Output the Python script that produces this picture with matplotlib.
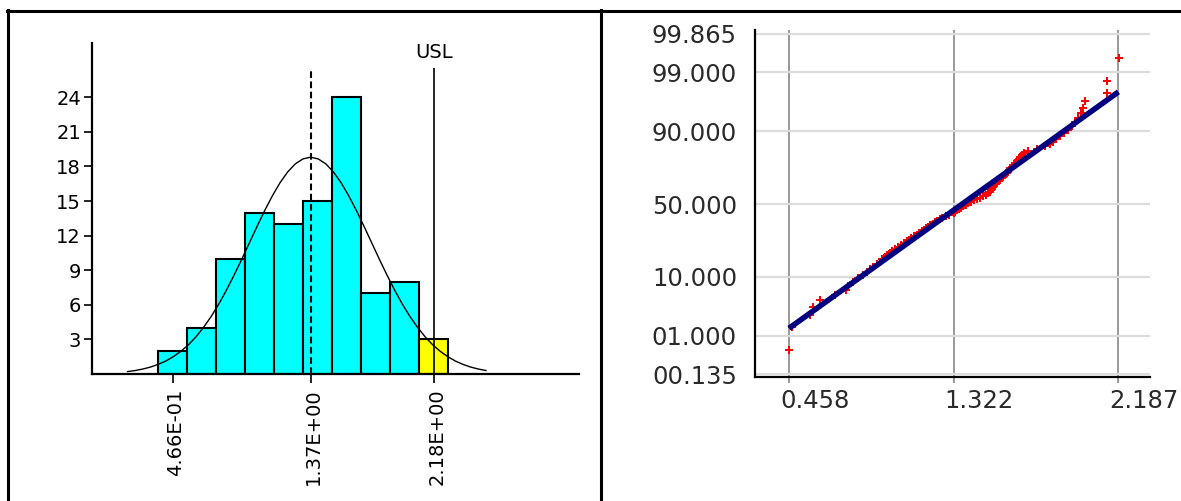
#%% Libraries
import math
import numpy as np
import matplotlib
matplotlib.use("Agg")
import matplotlib.pyplot as plt
import matplotlib.transforms as mtransforms
from matplotlib.lines import Line2D


#%% data - histogram (left)
bin_edges = [0.372, 0.562, 0.752, 0.942, 1.132, 1.322, 1.512, 1.702, 1.892, 2.082, 2.272]
counts = [2, 4, 10, 14, 13, 15, 24, 7, 8, 3]
bar_colors = ['#00ffff'] * 9 + ['#ffff00']

# normal curve
curve_x = [0.17, 0.22, 0.27, 0.32, 0.37, 0.42, 0.47, 0.52, 0.57, 0.62, 0.67, 0.72,
           0.77, 0.82, 0.87, 0.92, 0.97, 1.02, 1.07, 1.12, 1.17, 1.22, 1.27, 1.32,
           1.37, 1.42, 1.47, 1.52, 1.57, 1.62, 1.67, 1.72, 1.77, 1.82, 1.87, 1.92,
           1.97, 2.02, 2.07, 2.12, 2.17, 2.22, 2.27, 2.32, 2.37, 2.42, 2.47, 2.52]
curve_y = [0.21, 0.30, 0.43, 0.60, 0.83, 1.12, 1.50, 1.97, 2.54, 3.24, 4.07, 5.02,
           6.10, 7.31, 8.61, 9.98, 11.40, 12.82, 14.19, 15.46, 16.59, 17.52, 18.22, 18.65,
           18.80, 18.65, 18.22, 17.52, 16.59, 15.46, 14.19, 12.82, 11.40, 9.98, 8.61, 7.31,
           6.10, 5.02, 4.07, 3.24, 2.54, 1.97, 1.50, 1.12, 0.83, 0.60, 0.43, 0.30]

mean_value = 1.37
usl_value = 2.18
hist_ticks = [0.466, 1.37, 2.18]
hist_ticklabels = ['4.66E-01', '1.37E+00', '2.18E+00']
hist_yticks = [3, 6, 9, 12, 15, 18, 21, 24]

#%% data - normal probability plot (right)
prob_x = [0.458, 0.475,
          0.570, 0.585, 0.620, 0.700,
          0.755, 0.770, 0.795, 0.820, 0.845, 0.865, 0.885, 0.900, 0.920, 0.935,
          0.945, 0.960, 0.975, 0.990, 1.000, 1.015, 1.030, 1.045, 1.060, 1.075, 1.090, 1.100, 1.115, 1.128,
          1.140, 1.155, 1.165, 1.178, 1.190, 1.200, 1.212, 1.224, 1.236, 1.250, 1.262, 1.280, 1.300,
          1.325, 1.330, 1.340, 1.350, 1.360, 1.370, 1.385, 1.400, 1.415, 1.430, 1.445, 1.460, 1.475, 1.490, 1.505,
          1.515, 1.520, 1.525, 1.530, 1.535, 1.545, 1.550, 1.560, 1.565, 1.575, 1.580, 1.590,
          1.600, 1.605, 1.615, 1.620, 1.630, 1.640, 1.645, 1.655, 1.665, 1.670, 1.680, 1.690,
          1.710, 1.760, 1.800, 1.830, 1.845, 1.860, 1.880,
          1.900, 1.925, 1.945, 1.960, 1.975, 1.990, 2.000, 2.010,
          2.125, 2.125, 2.190]
prob_p = [0.5, 1.5, 2.5, 3.5, 4.5, 5.5, 6.5, 7.5, 8.5, 9.5,
          10.5, 11.5, 12.5, 13.5, 14.5, 15.5, 16.5, 17.5, 18.5, 19.5,
          20.5, 21.5, 22.5, 23.5, 24.5, 25.5, 26.5, 27.5, 28.5, 29.5,
          30.5, 31.5, 32.5, 33.5, 34.5, 35.5, 36.5, 37.5, 38.5, 39.5,
          40.5, 41.5, 42.5, 43.5, 44.5, 45.5, 46.5, 47.5, 48.5, 49.5,
          50.5, 51.5, 52.5, 53.5, 54.5, 55.5, 56.5, 57.5, 58.5, 59.5,
          60.5, 61.5, 62.5, 63.5, 64.5, 65.5, 66.5, 67.5, 68.5, 69.5,
          70.5, 71.5, 72.5, 73.5, 74.5, 75.5, 76.5, 77.5, 78.5, 79.5,
          80.5, 81.5, 82.5, 83.5, 84.5, 85.5, 86.5, 87.5, 88.5, 89.5,
          90.5, 91.5, 92.5, 93.5, 94.5, 95.5, 96.5, 97.5, 98.5, 99.5]

fit_x = [0.458, 2.187]
fit_p = [1.42, 97.6]

prob_xticks = [0.458, 1.322, 2.187]
prob_xticklabels = ['0.458', '1.322', '2.187']
prob_yticks = [0.135, 1, 10, 50, 90, 99, 99.865]
prob_yticklabels = ['00.135', '01.000', '10.000', '50.000', '90.000', '99.000', '99.865']


#%% probit scale helpers
zgrid = np.linspace(-6, 6, 6001)
pgrid = np.array([50 * (1 + math.erf(z / math.sqrt(2))) for z in zgrid])

def probit(p):
    return np.interp(p, pgrid, zgrid)

def inv_probit(z):
    return np.interp(z, zgrid, pgrid)


#%% figure
W, H = 1181, 501
fig = plt.figure(figsize=(W / 100, H / 100), dpi=100)
fig.patch.set_facecolor('white')

# frame lines round the two panels
fig.add_artist(Line2D([7 / W, 1], [1 - 10.5 / H] * 2, color='black', lw=2.2, transform=fig.transFigure))
fig.add_artist(Line2D([8 / W] * 2, [0, 1 - 9.5 / H], color='black', lw=2.2, transform=fig.transFigure))
fig.add_artist(Line2D([600.5 / W] * 2, [0, 1 - 9.5 / H], color='black', lw=2.2, transform=fig.transFigure))


#%% left: histogram
ax1 = fig.add_axes([92 / W, (H - 374) / H, (579 - 92) / W, (374 - 43) / H])
widths = np.diff(bin_edges)
ax1.bar(bin_edges[:-1], counts, width=widths, align='edge', color=bar_colors,
        edgecolor='black', linewidth=1.5, zorder=2)
ax1.plot(curve_x, curve_y, color='black', lw=1.0, zorder=3)
ax1.vlines(mean_value, 0, 26.4, colors='black', lw=1.5, linestyles=(0, (3.2, 1.7)), zorder=4)
ax1.vlines(usl_value, 0, 26.5, colors='black', lw=1.2, zorder=4)
ax1.text(usl_value, 27.9, 'USL', ha='center', va='center', fontsize=14)

ax1.set_xlim(-0.063, 3.13)
ax1.set_ylim(0, 28.7)
ax1.set_yticks(hist_yticks)
ax1.set_yticklabels([str(v) for v in hist_yticks])
ax1.set_xticks(hist_ticks)
ax1.set_xticklabels(hist_ticklabels, rotation=90)
ax1.tick_params(axis='y', length=6, width=1.2, pad=2, labelsize=14)
ax1.tick_params(axis='x', length=6.5, width=1.2, pad=4, labelsize=14)
for s in ['top', 'right']:
    ax1.spines[s].set_visible(False)
for s in ['left', 'bottom']:
    ax1.spines[s].set_linewidth(1.6)
off1 = mtransforms.ScaledTranslation(3 / 100, 0, fig.dpi_scale_trans)
for lab in ax1.get_xticklabels():
    lab.set_transform(lab.get_transform() + off1)


#%% right: normal probability plot
ax2 = fig.add_axes([755 / W, (H - 376.7) / H, (1150 - 755) / W, (376.7 - 30) / H])
ax2.set_yscale('function', functions=(probit, inv_probit))
ax2.plot(prob_x, prob_p, 'P', color='#ff0000', ms=5.5, mew=0, zorder=3)
ax2.plot(fit_x, fit_p, '-', color='#000080', lw=4, solid_capstyle='butt', zorder=4)

ax2.set_xlim(0.2795, 2.353)
ax2.set_ylim(0.116, 99.893)
ax2.set_yticks(prob_yticks)
ax2.set_yticklabels(prob_yticklabels)
ax2.yaxis.set_minor_locator(matplotlib.ticker.NullLocator())
ax2.set_xticks(prob_xticks)
ax2.set_xticklabels(prob_xticklabels)
ax2.grid(axis='y', color='#dcdcdc', lw=1.6, zorder=0)
ax2.grid(axis='x', color='#999999', lw=1.4, zorder=0)
ax2.set_axisbelow(True)
ax2.tick_params(axis='y', length=0, pad=13, labelsize=17.5, labelcolor='#2a2a2a')
ax2.tick_params(axis='x', length=4, width=1.4, color='#999999', pad=5, labelsize=17.5,
                labelcolor='#2a2a2a')
for s in ['top', 'right']:
    ax2.spines[s].set_visible(False)
for s in ['left', 'bottom']:
    ax2.spines[s].set_linewidth(1.6)
off2 = mtransforms.ScaledTranslation(-9 / 100, 0, fig.dpi_scale_trans)
for lab in ax2.get_xticklabels():
    lab.set_ha('left')
    lab.set_transform(lab.get_transform() + off2)


plt.savefig('out.png', dpi=100)
